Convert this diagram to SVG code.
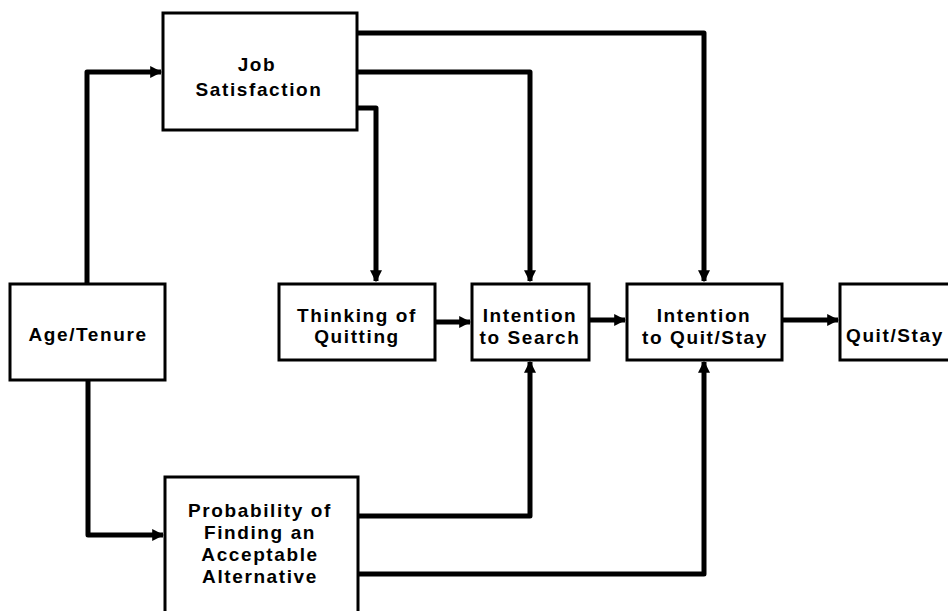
<svg xmlns="http://www.w3.org/2000/svg" width="948" height="611" viewBox="0 0 948 611">
<style>
.box{fill:#fff;stroke:#000;stroke-width:3}
.c{fill:none;stroke:#000;stroke-width:5;stroke-linejoin:round}
text{font-family:"Liberation Sans",Arial,sans-serif;font-weight:bold;font-size:19px;letter-spacing:1.6px;text-anchor:middle;fill:#000}
</style>
<defs>
<marker id="ah" viewBox="0 0 10 10" refX="9" refY="5" markerWidth="2.4" markerHeight="2.4" orient="auto" markerUnits="strokeWidth">
<path d="M0,0 L10,5 L0,10 Z" fill="#000"/>
</marker>
</defs>
<rect width="948" height="611" fill="#fff"/>
<g id="connectors">
<path class="c" d="M87,283 V72 H161" marker-end="url(#ah)"/>
<path class="c" d="M88,380 V535 H163" marker-end="url(#ah)"/>
<path class="c" d="M357,33 H704 V281" marker-end="url(#ah)"/>
<path class="c" d="M357,72 H530 V281" marker-end="url(#ah)"/>
<path class="c" d="M357,108 H376 V281" marker-end="url(#ah)"/>
<path class="c" d="M435,322 H470" marker-end="url(#ah)"/>
<path class="c" d="M589,320 H625" marker-end="url(#ah)"/>
<path class="c" d="M782,320 H838" marker-end="url(#ah)"/>
<path class="c" d="M358,516 H530 V362" marker-end="url(#ah)"/>
<path class="c" d="M358,574 H704 V362" marker-end="url(#ah)"/>
</g>
<g id="job-satisfaction">
<rect class="box" x="163" y="13" width="194" height="117"/>
<text x="257" y="71">Job</text>
<text x="259" y="96">Satisfaction</text>
</g>
<g id="age-tenure">
<rect class="box" x="10" y="284" width="155" height="96"/>
<text x="88" y="341">Age/Tenure</text>
</g>
<g id="thinking-of-quitting">
<rect class="box" x="279" y="284" width="156" height="76"/>
<text x="357" y="322">Thinking of</text>
<text x="357" y="343">Quitting</text>
</g>
<g id="intention-to-search">
<rect class="box" x="472" y="284" width="117" height="76"/>
<text x="530" y="322">Intention</text>
<text x="530" y="344">to Search</text>
</g>
<g id="intention-to-quit-stay">
<rect class="box" x="627" y="284" width="155" height="76"/>
<text x="704" y="322">Intention</text>
<text x="705" y="344">to Quit/Stay</text>
</g>
<g id="quit-stay">
<rect class="box" x="840" y="284" width="120" height="76"/>
<text x="846" y="342" style="text-anchor:start">Quit/Stay</text>
</g>
<g id="probability">
<rect class="box" x="165" y="477" width="193" height="150"/>
<text x="260" y="517">Probability of</text>
<text x="260" y="539">Finding an</text>
<text x="260" y="561">Acceptable</text>
<text x="260" y="583">Alternative</text>
</g>
</svg>
